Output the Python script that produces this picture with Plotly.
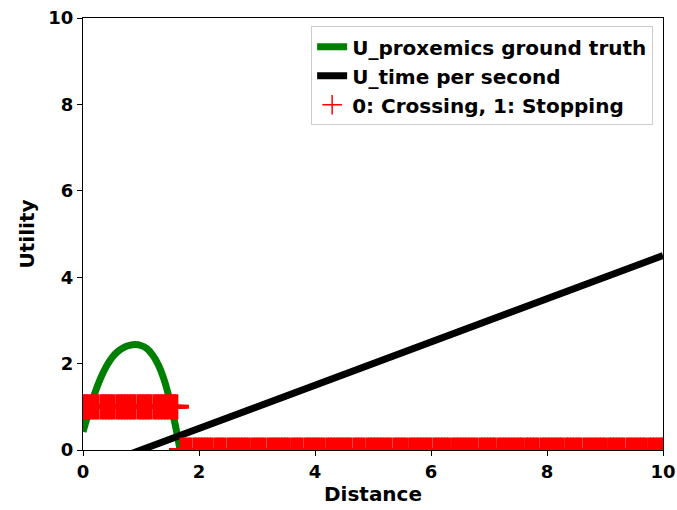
import plotly.graph_objects as go

# U_proxemics ground truth
prox_x = [0.00, 0.10, 0.20, 0.30, 0.40, 0.50, 0.60, 0.70, 0.80, 0.90,
          1.00, 1.10, 1.20, 1.30, 1.40, 1.50, 1.60, 1.66, 1.72]
prox_y = [0.42, 0.88, 1.30, 1.65, 1.93, 2.14, 2.28, 2.37, 2.42, 2.44,
          2.42, 2.35, 2.20, 1.97, 1.62, 1.13, 0.52, 0.10, -0.40]

# U_time per second
time_x = [0, 10]
time_y = [-0.5, 4.5]

# observed decisions: 1 = stopping, 0 = crossing
stopping_x = [0.00, 0.05, 0.10, 0.15, 0.20, 0.25, 0.32, 0.37, 0.42, 0.47,
              0.52, 0.59, 0.64, 0.69, 0.74, 0.79, 0.84, 0.89, 0.96, 1.01,
              1.06, 1.11, 1.16, 1.23, 1.28, 1.33, 1.38, 1.43, 1.48, 1.53,
              1.57, 1.61]
crossing_x = [1.70, 1.75, 1.80, 1.85, 1.92, 1.97, 2.02, 2.07, 2.12, 2.17,
              2.22, 2.29, 2.34, 2.39, 2.44, 2.51, 2.56, 2.61, 2.66, 2.71,
              2.76, 2.81, 2.86, 2.93, 2.98, 3.03, 3.08, 3.13, 3.20, 3.25,
              3.30, 3.35, 3.40, 3.45, 3.50, 3.55, 3.62, 3.67, 3.72, 3.77,
              3.84, 3.89, 3.94, 3.99, 4.04, 4.09, 4.14, 4.21, 4.26, 4.31,
              4.36, 4.41, 4.46, 4.51, 4.56, 4.61, 4.68, 4.73, 4.78, 4.83,
              4.90, 4.95, 5.00, 5.05, 5.10, 5.15, 5.20, 5.25, 5.30, 5.37,
              5.42, 5.47, 5.52, 5.57, 5.64, 5.69, 5.74, 5.79, 5.84, 5.89,
              5.94, 5.99, 6.06, 6.11, 6.16, 6.21, 6.26, 6.31, 6.38, 6.43,
              6.48, 6.53, 6.58, 6.63, 6.68, 6.73, 6.78, 6.85, 6.90, 6.95,
              7.00, 7.05, 7.10, 7.17, 7.22, 7.27, 7.32, 7.37, 7.42, 7.47,
              7.52, 7.57, 7.64, 7.69, 7.74, 7.79, 7.84, 7.91, 7.96, 8.01,
              8.06, 8.11, 8.16, 8.21, 8.26, 8.33, 8.38, 8.43, 8.48, 8.53,
              8.58, 8.65, 8.70, 8.75, 8.80, 8.85, 8.90, 8.95, 9.00, 9.07,
              9.12, 9.17, 9.22, 9.27, 9.32, 9.39, 9.44, 9.49, 9.54, 9.59,
              9.64, 9.69, 9.76, 9.81, 9.86, 9.91, 9.96, 10.00]

ticks = [0, 2, 4, 6, 8, 10]

dec_x = stopping_x + crossing_x
dec_y = [1] * len(stopping_x) + [0] * len(crossing_x)

bold = dict(family="DejaVu Sans", size=18, color="black", weight="bold")

fig = go.Figure()
fig.add_trace(go.Scatter(x=prox_x, y=prox_y, mode="lines", line=dict(color="green", width=7),
                         name="U_proxemics ground truth", line_shape="spline"))
fig.add_trace(go.Scatter(x=time_x, y=time_y, mode="lines", line=dict(color="black", width=7),
                         name="U_time per second"))
fig.add_trace(go.Scatter(x=dec_x, y=dec_y, mode="markers", showlegend=False,
                         marker=dict(symbol="cross-thin", size=18, color="red",
                                     line=dict(color="red", width=4))))
# legend entry with the thinner marker used in the key
fig.add_trace(go.Scatter(x=[None], y=[None], mode="markers", name="0: Crossing, 1: Stopping",
                         marker=dict(symbol="cross-thin", size=14, color="red",
                                     line=dict(color="red", width=1.5))))

axis = dict(range=[0, 10], tickvals=ticks, showgrid=False, zeroline=False,
            showline=True, mirror=True, linecolor="black", linewidth=1, automargin=False,
            ticks="outside", ticklen=5, tickcolor="black", tickfont=bold)
fig.update_xaxes(**axis, title=dict(text="Distance", font=dict(bold, size=20), standoff=6))
fig.update_yaxes(**axis, title=dict(text="Utility", font=dict(bold, size=20), standoff=8))

fig.update_layout(
    width=677, height=510,
    margin=dict(l=83, r=14, t=18, b=60),
    plot_bgcolor="white", paper_bgcolor="white",
    legend=dict(x=0.983, y=0.981, xanchor="right", yanchor="top",
                font=dict(bold, size=20), bgcolor="white",
                bordercolor="#cccccc", borderwidth=1),
)

# drop the default page margin so the figure sits at the window's corner
fig.write_html("out.html", config={"displayModeBar": False},
               post_script="document.body.style.margin = '0';")
